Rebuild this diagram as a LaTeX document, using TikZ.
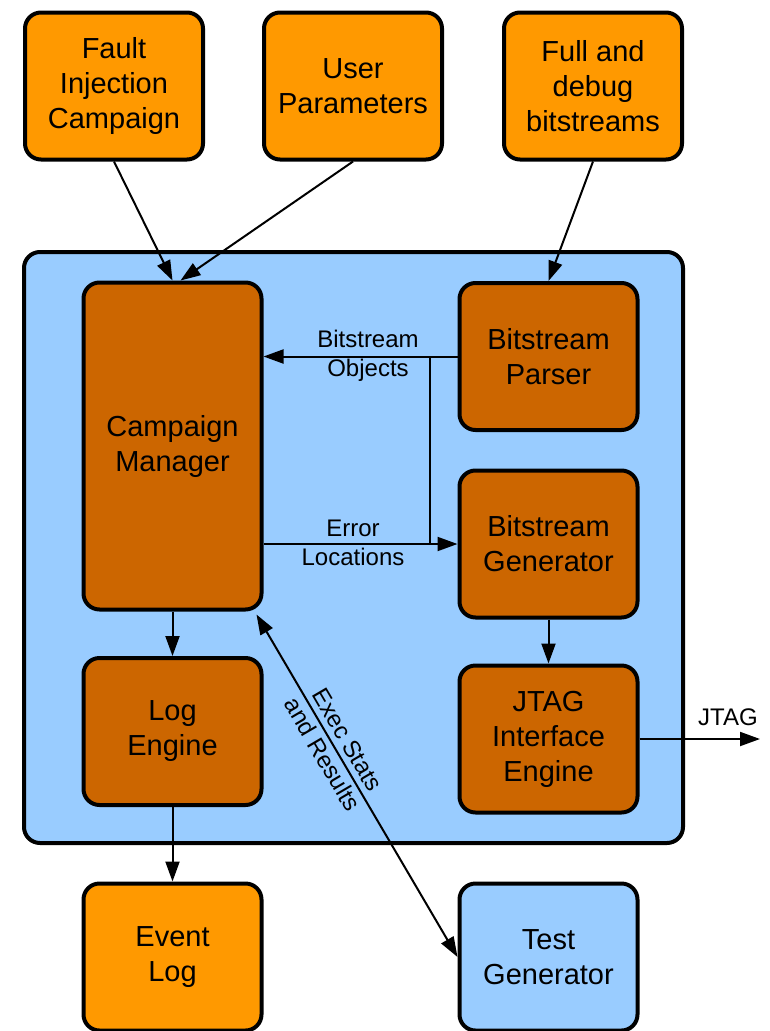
\documentclass[tikz,border=0pt]{standalone}
\usepackage{fontspec}
\setmainfont{Liberation Sans}
\usetikzlibrary{arrows.meta,calc}
\definecolor{inorange}{HTML}{FF9900}
\definecolor{coreorange}{HTML}{CC6600}
\definecolor{paleblue}{HTML}{99CCFF}
\begin{document}
\begin{tikzpicture}[x=1pt,y=-1pt,
  block/.style={draw=black,line width=4pt,rounded corners=16pt,
    minimum width=178pt,minimum height=147pt,align=center,
    inner sep=0pt,font=\fontsize{29}{35}\selectfont},
  ext/.style={block,fill=inorange},
  core/.style={block,fill=coreorange},
  tool/.style={block,fill=paleblue},
  flow/.style={line width=2pt,-{Triangle[length=20pt,width=14pt]}},
  bus/.style={line width=2pt},
  lbl/.style={align=center,inner sep=0pt,font=\fontsize{24}{29}\selectfont}]
\useasboundingbox (0,0) rectangle (769,1031);

% framework container
\draw[line width=4pt,fill=paleblue,rounded corners=16pt] (24,252) rectangle (683,843);

% inputs
\node[ext] (fic) at (114,86) {Fault\\Injection\\Campaign};
\node[ext] (up)  at (353,86) {User\\Parameters};
\node[ext] (fdb) at (593,86) {Full and\\debug\\bitstreams};

% internal engines
\node[core,minimum height=327pt] (cm) at (172.5,446) {Campaign\\Manager};
\node[core] (bp)   at (548.5,356.5) {Bitstream\\Parser};
\node[core] (bg)   at (548.5,544)   {Bitstream\\Generator};
\node[core] (jtag) at (548.5,739)   {JTAG\\Interface\\Engine};
\node[core] (le)   at (172.5,731.5) {Log\\Engine};

% outputs
\node[ext]  (el) at (172.5,957) {Event\\Log};
\node[tool] (tg) at (548.5,957) {Test\\Generator};

% connectors
\coordinate (busx) at (430,0);
\coordinate (jtagout) at (760,739);
\draw[flow] (fic.south) -- (cm.north);
\draw[flow] (up.south) -- ($(cm.north)+(8,0)$);
\draw[flow] (fdb.south) -- (bp.north);
\draw[flow] (bp.west) -- (bp.west -| cm.east);
\draw[bus] (bp.west -| busx) -- (bg.west -| busx);
\draw[flow] (bg.west -| cm.east) -- (bg.west);
\draw[flow] (bg.south) -- (jtag.north);
\draw[flow] (cm.south) -- (le.north);
\draw[flow] (le.south) -- (el.north);
\draw[flow] (jtag.east) -- (jtagout);
\draw[line width=2pt,{Triangle[length=20pt,width=14pt]}-{Triangle[length=20pt,width=14pt]}]
  ($(cm.south east)+(-7,3)$) -- (tg.west);

% connector labels
\node[lbl] (lobj) at (368,355.5) {Bitstream\\Objects};
\node[lbl] (lerr) at (353,543) {Error\\Locations};
\node[lbl,anchor=base] (ljtag) at (728,725) {JTAG};
\node[lbl,rotate=-59.6] (lexec) at (335,747) {Exec Stats\\and Results};
\end{tikzpicture}
\end{document}
